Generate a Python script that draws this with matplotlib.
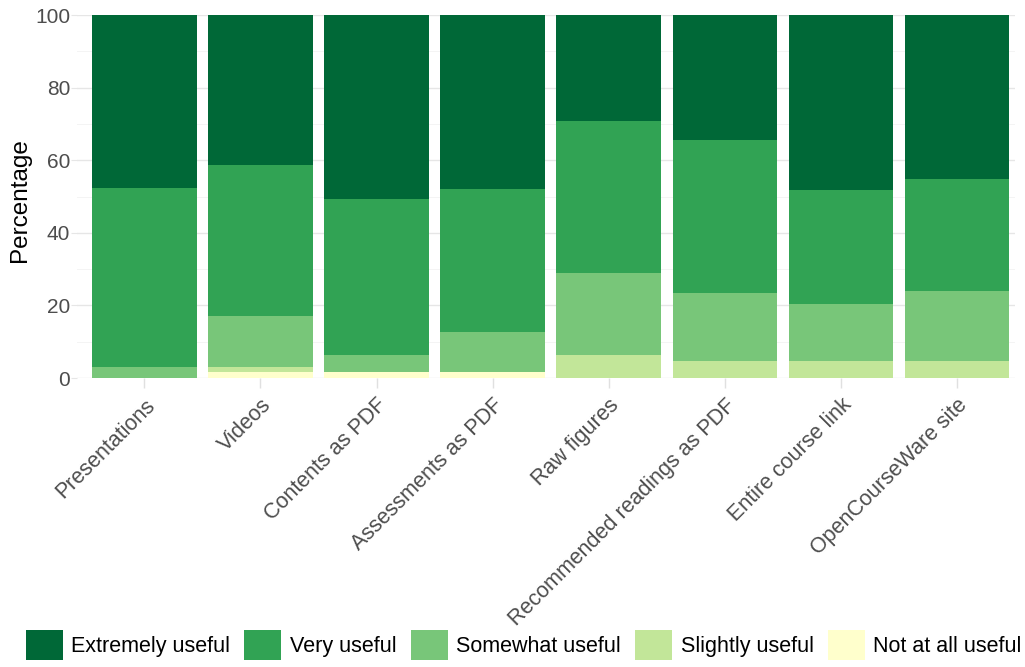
import matplotlib
matplotlib.use("Agg")
import matplotlib.pyplot as plt
from matplotlib.patches import Patch
import numpy as np

plt.rcParams['font.family'] = ['Liberation Sans', 'DejaVu Sans']

categories = ["Presentations", "Videos", "Contents as PDF", "Assessments as PDF",
              "Raw figures", "Recommended readings as PDF", "Entire course link",
              "OpenCourseWare site"]
levels = ["Extremely useful", "Very useful", "Somewhat useful", "Slightly useful",
          "Not at all useful"]
colors = ["#006837", "#31a354", "#78c679", "#c2e699", "#ffffcc"]

# percentage of respondents per usefulness level (stacked from bottom: not at all -> extremely)
not_at_all = [0.0, 1.6, 1.6, 1.6, 0.0, 0.0, 0.0, 0.0]
slightly   = [0.0, 1.5, 0.0, 0.0, 6.3, 4.7, 4.7, 4.7]
somewhat   = [3.1, 14.1, 4.7, 11.0, 22.6, 18.7, 15.6, 19.4]
very       = [49.2, 41.5, 43.0, 39.6, 41.9, 42.2, 31.4, 30.7]
extremely  = [47.7, 41.3, 50.7, 47.8, 29.2, 34.4, 48.3, 45.2]

stack_order = [not_at_all, slightly, somewhat, very, extremely]
stack_colors = colors[::-1]

fig = plt.figure(figsize=(10.25, 6.67), dpi=100)
ax = fig.add_axes([77/1025, 1 - 378/667, (1015 - 77)/1025, 363/667])

x = np.arange(len(categories))
bottom = np.zeros(len(categories))
for vals, col in zip(stack_order, stack_colors):
    v = np.array(vals)
    ax.bar(x, v, width=0.9, bottom=bottom, color=col, edgecolor="none", zorder=2)
    bottom += v

ax.set_ylim(0, 100)
ax.set_xlim(-0.58, 7.5)
ax.set_yticks([0, 20, 40, 60, 80, 100])
ax.set_yticks([10, 30, 50, 70, 90], minor=True)
ax.grid(axis="y", which="major", color="#e6e6e6", linewidth=1.0, zorder=0)
ax.grid(axis="y", which="minor", color="#f2f2f2", linewidth=0.6, zorder=0)
ax.set_axisbelow(True)
for s in ax.spines.values():
    s.set_visible(False)

ax.set_xticks(x)
ax.set_xticklabels(categories, rotation=45, ha="right", rotation_mode="anchor",
                   fontsize=15.5, color="#4d4d4d")
ax.tick_params(axis="x", length=7, color="#e0e0e0", width=1, pad=5)
ax.tick_params(axis="y", which="major", length=4, color="#e6e6e6", labelsize=15,
               labelcolor="#4d4d4d", pad=1)
ax.tick_params(axis="y", which="minor", length=0)
ax.set_ylabel("Percentage", fontsize=17.5, color="black")
ax.yaxis.set_label_coords(-0.049, 0.49)

handles = [Patch(facecolor=c, edgecolor="none", label=l) for c, l in zip(colors, levels)]
fig.legend(handles=handles, loc="lower center", bbox_to_anchor=(0.511, -0.018), ncol=5,
           frameon=False, fontsize=15.5, handlelength=1.72, handleheight=1.72,
           handletextpad=0.4, columnspacing=0.65)

fig.savefig("out.png", dpi=100, facecolor="white")
